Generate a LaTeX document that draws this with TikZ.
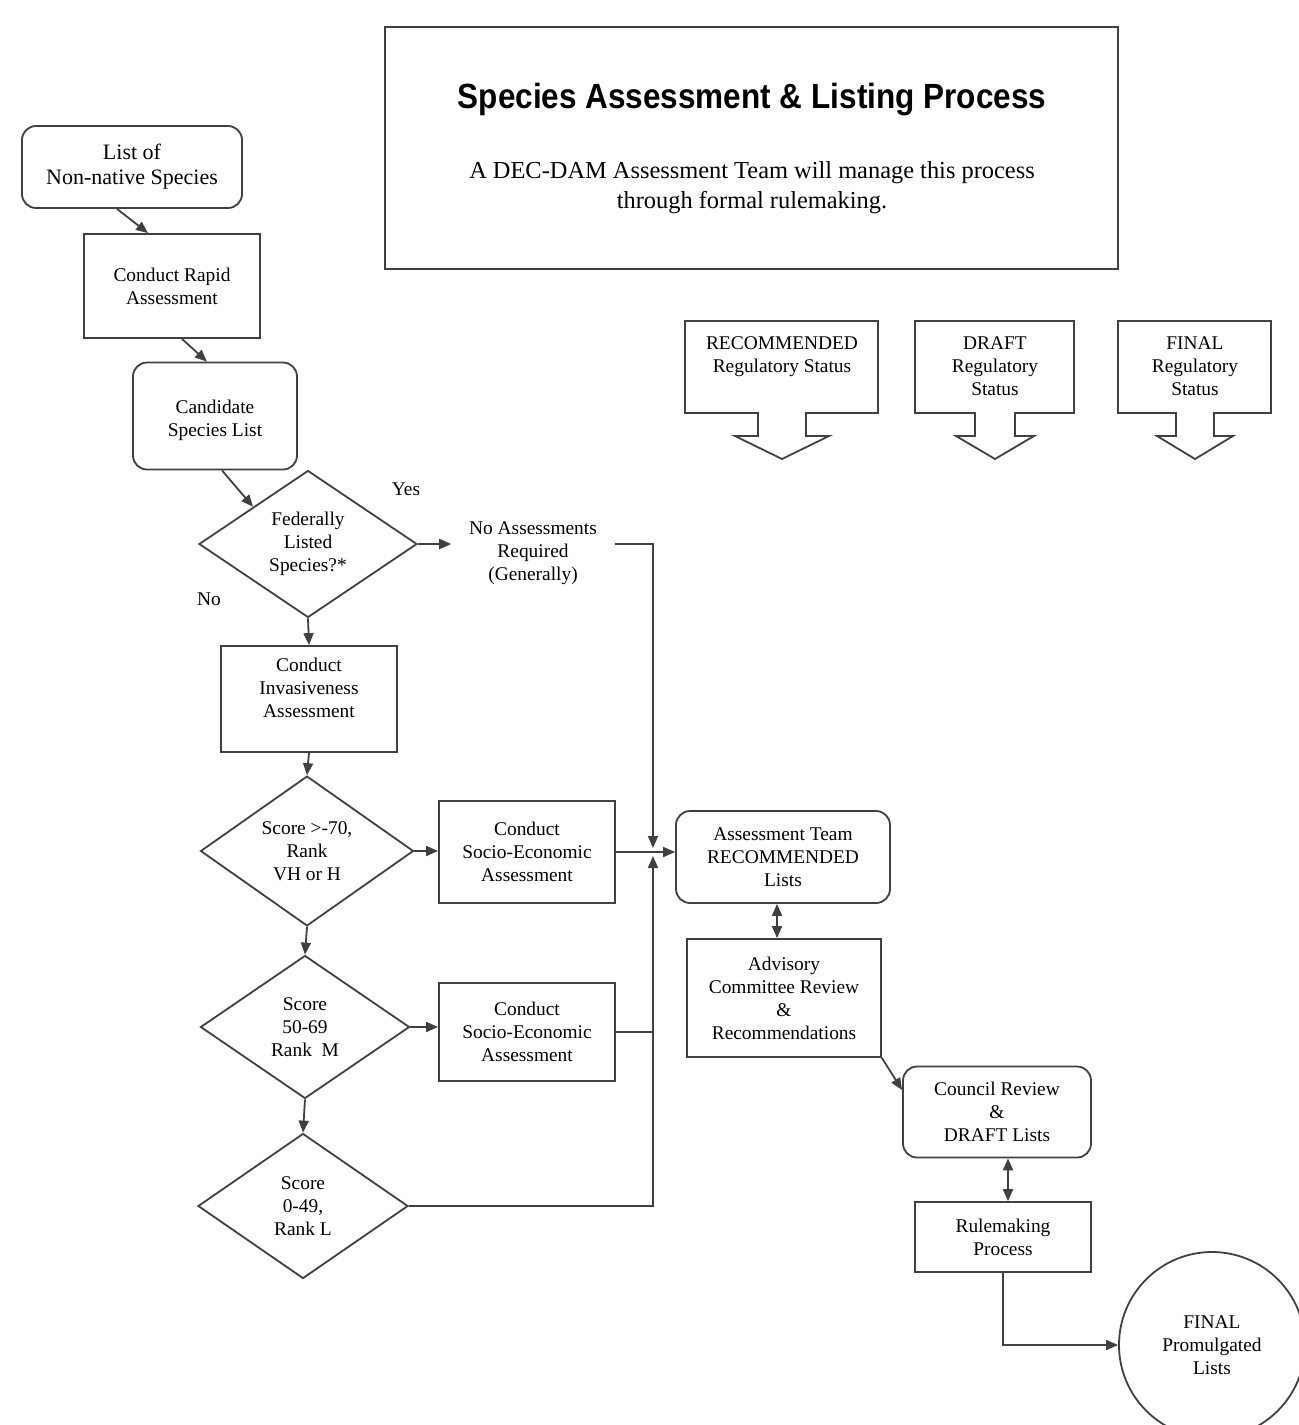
\documentclass[tikz,border=0pt]{standalone}
\usepackage{fontspec}
\setmainfont{Liberation Serif}
\newfontfamily\titlefont[FakeStretch=0.9]{Liberation Sans}
\usetikzlibrary{shapes.geometric,arrows.meta}

\begin{document}
\begin{tikzpicture}[x=0.5pt,y=-0.5pt,line width=0.9pt,
    every node/.style={font=\fontsize{9.7}{11.5}\selectfont,align=center,inner sep=0pt},
    box/.style={draw=black!75,rectangle},
    rbox/.style={draw=black!75,rectangle,rounded corners=7pt},
    decision/.style={draw=black!75,diamond},
    flow/.style={draw=black!75,-{Triangle[length=6pt,width=5pt]}},
    twoway/.style={draw=black!75,{Triangle[length=6pt,width=5pt]}-{Triangle[length=6pt,width=5pt]}},
    status/.style={draw=black!75,line width=0.9pt}]

  \useasboundingbox (0,0) rectangle (1298,1425);

  \node[box,minimum width=366.5pt,minimum height=121pt] (head) at (751.5,148) {};
  \node[font=\titlefont\fontsize{17.5}{20}\selectfont\bfseries] (title) at (752,100) {Species Assessment \& Listing Process};
  \node[font=\fontsize{12.2}{15}\selectfont] (sub) at (752,188) {A DEC-DAM Assessment Team will manage this process\\through formal rulemaking.};

  \begin{scope}
    \node[rbox,font=\fontsize{11}{12.5}\selectfont,minimum width=110pt,minimum height=41pt] (list) at (132,167) {List of\\Non-native Species};
    \node[box,minimum width=88pt,minimum height=52pt] (rapid) at (172,286) {Conduct Rapid\\Assessment};
    \node[rbox,minimum width=82pt,minimum height=53.5pt] (cand) at (215,416) {~\\Candidate\\Species List};
    \node[decision,minimum width=109pt,minimum height=73.5pt] (fed) at (308,544) {Federally\\Listed\\Species?*};
    \node (yes) at (406,489) {Yes};
    \node (no) at (209,599) {No};
    \node[inner xsep=8.5pt] (none) at (533,553) {No Assessments\\Required\\(Generally)};
    \node[box,minimum width=88pt,minimum height=53pt] (invas) at (309,699) {Conduct\\Invasiveness\\Assessment\\~};
    \node[decision,minimum width=106.5pt,minimum height=74pt] (high) at (307,851) {Score >-70,\\Rank\\VH or H};
    \node[decision,minimum width=104.5pt,minimum height=71.5pt] (mid) at (305,1027) {Score\\50-69\\Rank~ M};
    \node[decision,minimum width=105pt,minimum height=72.5pt] (low) at (303,1206) {Score\\0-49,\\Rank L};
    \node[box,minimum width=88pt,minimum height=51pt] (sehigh) at (527,852) {Conduct\\Socio-Economic\\Assessment};
    \node[box,minimum width=88pt,minimum height=49pt] (semid) at (527,1032) {Conduct\\Socio-Economic\\Assessment};
    \node[rbox,minimum width=107pt,minimum height=46pt] (team) at (783,857) {Assessment Team\\RECOMMENDED\\Lists};
    \node[box,minimum width=97pt,minimum height=59pt] (advisory) at (784,998) {Advisory\\Committee Review\\\&\\Recommendations};
    \node[rbox,minimum width=94pt,minimum height=45.5pt] (council) at (997,1112) {Council Review\\\&\\DRAFT Lists};
    \node[box,minimum width=88pt,minimum height=35pt] (rule) at (1003,1237) {Rulemaking\\Process};
    \node[draw=black!75,circle,minimum size=93pt] (final) at (1212,1345) {FINAL\\Promulgated\\Lists};
  \end{scope}

  \coordinate (join) at (653,852);

  \foreach \l/\r/\c/\s/\h/\n/\txt in {685/878/782/24/47/rec/{RECOMMENDED\\Regulatory Status},
      915/1074/995/20/39/draft/{DRAFT\\Regulatory\\Status},
      1118/1271/1195/19/38/fin/{FINAL\\Regulatory\\Status}} {
    \draw[status] (\l,321) -- (\r,321) -- (\r,413) -- (\c+\s,413) -- (\c+\s,436)
      -- (\c+\h,436) -- (\c,459) -- (\c-\h,436) -- (\c-\s,436) -- (\c-\s,413)
      -- (\l,413) -- cycle;
    \node[anchor=north] (\n) at (\c,336) {\txt};
  }

  \path ([xshift=-7.5pt]list.south) edge[flow] ([xshift=-12pt]rapid.north);
  \path ([xshift=5pt]rapid.south) edge[flow] ([xshift=-4pt]cand.north);
  \path ([xshift=3.5pt]cand.south) edge[flow] (fed.north west);
  \path (fed.east) edge[flow] (fed.east -| none.west);
  \path (fed.south) edge[flow] (invas.north);
  \path (invas.south) edge[flow] (high.north);
  \path (high.south) edge[flow] (mid.north);
  \path (mid.south) edge[flow] (low.north);
  \path (high.east) edge[flow] (high.east -| sehigh.west);
  \path (mid.east) edge[flow] (mid.east -| semid.west);
  \path (sehigh.east) edge[flow] (sehigh.east -| team.west);
  \draw[flow] (none.east |- fed.east) -| ([yshift=2pt]join);
  \draw[flow] (low.east) -| ([yshift=-2pt]join);
  \draw[draw=black!75] (semid.east) -- (semid.east -| join);
  \path ([xshift=-3pt]team.south) edge[twoway] ([xshift=-3pt]team.south |- advisory.north);
  \path (advisory.south east) edge[flow] ([yshift=11pt]council.west);
  \path ([xshift=5.5pt]council.south) edge[twoway] ([xshift=5.5pt]council.south |- rule.north);
  \draw[flow] (rule.south) |- (final.west);
\end{tikzpicture}
\end{document}
